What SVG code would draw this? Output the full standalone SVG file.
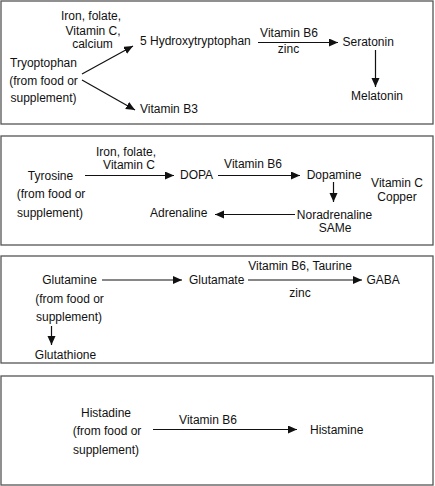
<svg xmlns="http://www.w3.org/2000/svg" width="435" height="486" viewBox="0 0 435 486">
<style>
text{font-family:"Liberation Sans",Arial,sans-serif;font-size:12px;fill:#111}
.m{text-anchor:middle}
.box{fill:#fff;stroke:#555;stroke-width:1.3}
.c{stroke:#111;stroke-width:1.2;fill:none;marker-end:url(#ah)}
</style>
<defs>
<marker id="ah" markerUnits="userSpaceOnUse" markerWidth="10" markerHeight="9" refX="9" refY="4" orient="auto">
<path d="M0,0 L9,4 L0,8 Z" fill="#111"/>
</marker>
</defs>
<rect width="435" height="486" fill="#fff"/>
<g id="panels">
<rect class="box" x="1" y="1" width="432" height="123"/>
<rect class="box" x="1" y="136" width="432" height="109"/>
<rect class="box" x="1" y="256" width="432" height="107"/>
<rect class="box" x="1" y="376" width="432" height="109"/>
</g>
<g id="connectors">
<line class="c" x1="82" y1="74" x2="133" y2="46"/>
<line class="c" x1="82" y1="80" x2="135" y2="110"/>
<line class="c" x1="258" y1="42.5" x2="338" y2="42.5"/>
<line class="c" x1="375.5" y1="50" x2="375.5" y2="87"/>
<line class="c" x1="85" y1="175.5" x2="174" y2="175.5"/>
<line class="c" x1="218" y1="175.5" x2="300" y2="175.5"/>
<line class="c" x1="333.5" y1="182" x2="333.5" y2="202"/>
<line class="c" x1="295" y1="214.5" x2="215" y2="214.5"/>
<line class="c" x1="102" y1="280" x2="182" y2="280"/>
<line class="c" x1="248" y1="280" x2="362" y2="280"/>
<line class="c" x1="51.5" y1="326" x2="51.5" y2="345"/>
<line class="c" x1="153" y1="429.5" x2="297" y2="429.5"/>
</g>
<g id="tryptophan"><text class="m" x="43.5" y="67">Tryoptophan</text><text class="m" x="43.5" y="85">(from food or</text><text class="m" x="43.5" y="102">supplement)</text></g>
<g id="label-iron1"><text class="m" x="91" y="20">Iron, folate,</text><text class="m" x="93" y="34.5">Vitamin C,</text><text class="m" x="92.5" y="48">calcium</text></g>
<g id="htp"><text x="140" y="45">5 Hydroxytryptophan</text></g>
<g id="b3"><text x="140" y="113">Vitamin B3</text></g>
<g id="label-b6-1"><text class="m" x="289" y="37">Vitamin B6</text><text class="m" x="288.5" y="53">zinc</text></g>
<g id="seratonin"><text x="342.5" y="46">Seratonin</text></g>
<g id="melatonin"><text class="m" x="377" y="100">Melatonin</text></g>
<g id="tyrosine"><text class="m" x="50.5" y="179.5">Tyrosine</text><text class="m" x="51" y="197.5">(from food or</text><text class="m" x="50" y="216.5">supplement)</text></g>
<g id="label-iron2"><text class="m" x="126" y="155.5">Iron, folate,</text><text class="m" x="129" y="169">Vitamin C</text></g>
<g id="dopa"><text x="180" y="178.5">DOPA</text></g>
<g id="label-b6-2"><text class="m" x="253" y="168">Vitamin B6</text></g>
<g id="dopamine"><text class="m" x="334" y="178.5">Dopamine</text></g>
<g id="label-vitc"><text class="m" x="397" y="187">Vitamin C</text><text class="m" x="397" y="201">Copper</text></g>
<g id="noradrenaline"><text class="m" x="334.5" y="218.5">Noradrenaline</text><text class="m" x="335" y="232">SAMe</text></g>
<g id="adrenaline"><text x="150" y="216.5">Adrenaline</text></g>
<g id="glutamine"><text class="m" x="69.5" y="283.5">Glutamine</text><text class="m" x="69.5" y="302.5">(from food or</text><text class="m" x="69" y="320.5">supplement)</text></g>
<g id="glutamate"><text x="189" y="283.5">Glutamate</text></g>
<g id="label-b6-3"><text class="m" x="300" y="270">Vitamin B6, Taurine</text><text class="m" x="300" y="297">zinc</text></g>
<g id="gaba"><text x="366.5" y="283.5">GABA</text></g>
<g id="glutathione"><text class="m" x="65.5" y="358.5">Glutathione</text></g>
<g id="histadine"><text class="m" x="106" y="416.5">Histadine</text><text class="m" x="107" y="434.5">(from food or</text><text class="m" x="106" y="453.5">supplement)</text></g>
<g id="label-b6-4"><text class="m" x="208" y="423.5">Vitamin B6</text></g>
<g id="histamine"><text x="310" y="434">Histamine</text></g>
</svg>
